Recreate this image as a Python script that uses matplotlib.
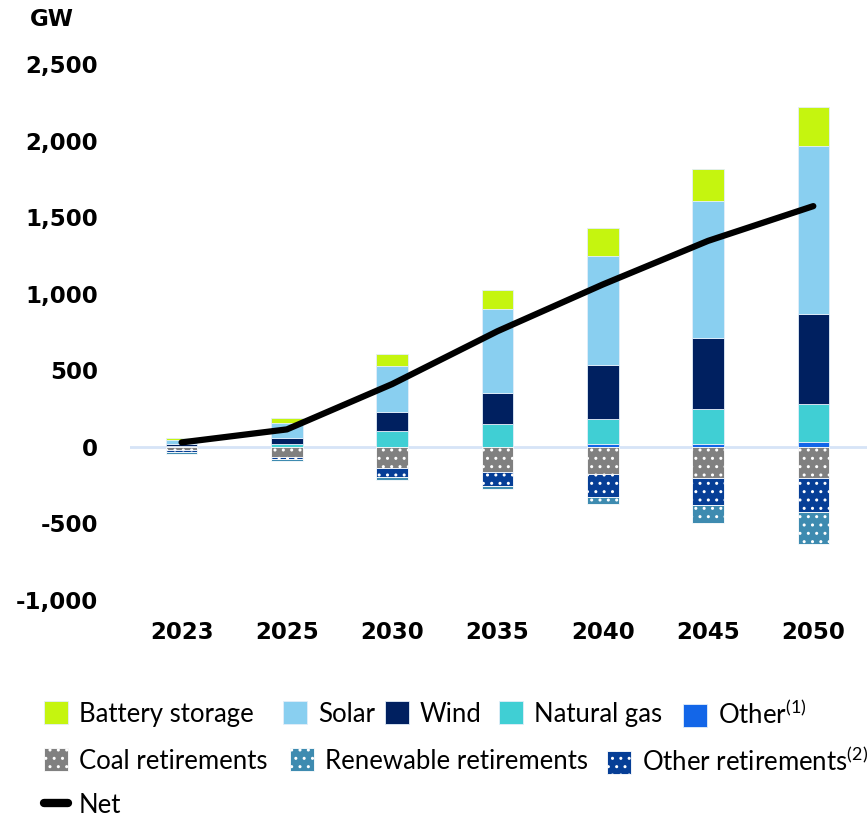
import numpy as np
import matplotlib
matplotlib.use("Agg")
import matplotlib.pyplot as plt
from matplotlib.lines import Line2D

# data (GW)
years = ["2023", "2025", "2030", "2035", "2040", "2045", "2050"]
other = [0, 0, 0, 0, 20, 20, 33]
natural_gas = [3, 18, 104, 146, 165, 224, 250]
wind = [15, 41, 125, 207, 348, 470, 583]
solar = [30, 98, 300, 544, 712, 892, 1098]
battery = [13, 29, 78, 126, 181, 207, 254]
coal_ret = [22, 69, 135, 163, 176, 202, 202]
other_ret = [12, 11, 65, 94, 150, 179, 222]
renew_ret = [14, 11, 15, 17, 44, 113, 211]
net = [29, 114, 410, 755, 1060, 1345, 1572]

plt.rcParams['hatch.color'] = 'white'
plt.rcParams['mathtext.fontset'] = 'custom'
plt.rcParams['mathtext.rm'] = 'Lato'

fig = plt.figure(figsize=(8.67, 8.18), dpi=100)
ax = fig.add_axes([130 / 867, 1 - 600 / 818, 1 - 130 / 867, (600 - 64) / 818])

x = np.arange(len(years))
w = 0.30

pos_series = [
    (other, '#1366E8', 'Other$^{(1)}$'),
    (natural_gas, '#40CFD4', 'Natural gas'),
    (wind, '#002060', 'Wind'),
    (solar, '#89CFF0', 'Solar'),
    (battery, '#C5F50F', 'Battery storage'),
]
neg_series = [
    (coal_ret, '#808080', 'Coal retirements'),
    (other_ret, '#063E96', 'Other retirements$^{(2)}$'),
    (renew_ret, '#3E8BB0', 'Renewable retirements'),
]

handles = {}
bottom = np.zeros(len(years))
for vals, col, lab in pos_series:
    v = np.array(vals, dtype=float)
    b = ax.bar(x, v, w, bottom=bottom, color=col, edgecolor='#E3EEF9', linewidth=0.6, zorder=2)
    handles[lab] = b
    bottom += v

bottom = np.zeros(len(years))
for vals, col, lab in neg_series:
    v = -np.array(vals, dtype=float)
    b = ax.bar(x, v, w, bottom=bottom, color=col, edgecolor='white', linewidth=0.6,
               hatch='..', zorder=2)
    handles[lab] = b
    bottom += v

ax.axhline(0, color='#D6E4F7', linewidth=2, zorder=1)
ax.plot(x, net, color='black', linewidth=4.5, solid_capstyle='round',
        solid_joinstyle='round', zorder=3)

ax.set_xlim(-0.49, 6.51)
ax.set_ylim(-1000, 2500)
ax.set_yticks(np.arange(-1000, 2501, 500))
ax.set_yticklabels([f"{v:,}" for v in range(-1000, 2501, 500)])
ax.set_xticks(x)
ax.set_xticklabels(years)
for lbl in ax.get_xticklabels() + ax.get_yticklabels():
    lbl.set_fontweight('bold')
    lbl.set_fontsize(16.5)
    lbl.set_family('DejaVu Sans')
ax.tick_params(axis='both', length=0)
ax.tick_params(axis='y', pad=23)
ax.tick_params(axis='x', pad=15)
for s in ax.spines.values():
    s.set_visible(False)

fig.text(30 / 867, 1 - 20 / 818, "GW", fontsize=16.5, fontweight='bold',
         family='DejaVu Sans', va='center', ha='left')

leg_kw = dict(frameon=False, loc='center left', handlelength=0.95, handleheight=1.0,
              handletextpad=0.4, borderaxespad=0, borderpad=0,
              prop={'family': 'Lato', 'size': 18.5})

net_handle = Line2D([0], [0], color='black', linewidth=6, solid_capstyle='round')
handles['Net'] = net_handle

# legend entries placed like the original's flowing rows (left x, centre y in px)
legend_rows = [
    (714, [('Battery storage', 44), ('Solar', 283), ('Wind', 385),
           ('Natural gas', 499), ('Other$^{(1)}$', 683)]),
    (761, [('Coal retirements', 44), ('Renewable retirements', 290),
           ('Other retirements$^{(2)}$', 607)]),
    (805, [('Net', 44)]),
]
for ypx, items in legend_rows:
    for lab, xpx in items:
        fig.legend([handles[lab]], [lab], bbox_to_anchor=(xpx / 867, 1 - ypx / 818), **leg_kw)

fig.savefig("out.png", dpi=100)
